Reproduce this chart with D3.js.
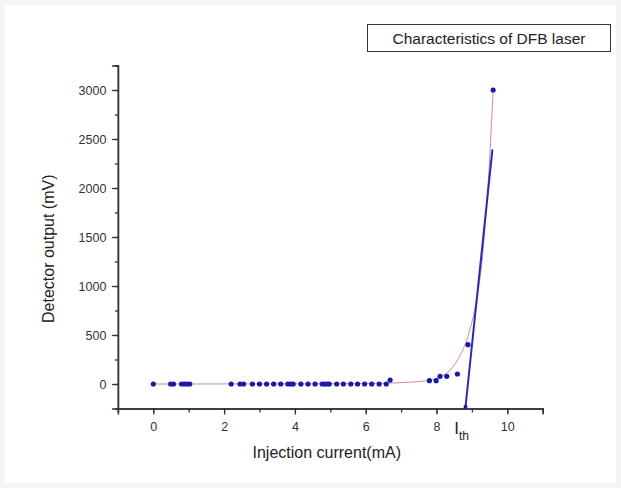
<!doctype html>
<html lang="en">
<head>
    <meta charset="utf-8">
    <title>Characteristics of DFB laser</title>
    <script src="https://d3js.org/d3.v7.min.js"></script>
    <style>
        html, body { margin: 0; padding: 0; background: #f4f4f4; }
        svg { display: block; font-family: "Liberation Sans", Arial, sans-serif; }
    </style>
</head>
<body>
    <script>
        // Measured points: injection current (mA) and detector output (mV)
        const currentMA = [0, 0.49, 0.57, 0.8, 0.88, 0.95, 1.03, 2.2, 2.45, 2.55, 2.8, 3.0, 3.2, 3.4, 3.6,
                           3.8, 3.88, 3.95, 4.17, 4.37, 4.57, 4.77, 4.84, 4.91, 4.97, 5.18, 5.37, 5.58, 5.77,
                           5.97, 6.17, 6.38, 6.58, 6.69, 7.8, 7.99, 8.1, 8.29, 8.59, 8.89, 9.6];
        const outputMV  = [0, 0, 0, 0, 0, 0, 0, 0, 0, 0, 0, 0, 0, 0, 0,
                           0, 0, 0, 0, 0, 0, 0, 0, 0, 0, 0, 0, 0, 0,
                           0, 0, 0, 0, 40, 34, 34, 78, 78, 102, 401, 3000];

        // Red fitted curve
        const fitX = [0, 5.0, 6.6, 7.2, 7.8, 8.3, 8.6, 8.9, 9.1, 9.3, 9.5, 9.6];
        const fitY = [0, 2, 8, 18, 38, 115, 250, 500, 800, 1300, 2300, 3000];

        // Blue threshold line
        const threshX = [8.82, 9.58];
        const threshY = [-232, 2395];

        const xTicks = [0, 2, 4, 6, 8, 10];
        const yTicks = [0, 500, 1000, 1500, 2000, 2500, 3000];

        const W = 621, H = 488;
        const svg = d3.select("body").append("svg").attr("width", W).attr("height", H);

        svg.append("rect")
            .attr("x", 5).attr("y", 5)
            .attr("width", W - 10).attr("height", H - 10)
            .attr("fill", "#ffffff");

        const x = d3.scaleLinear().domain([-1, 11]).range([117.9, 542.7]);
        const y = d3.scaleLinear().domain([-250, 3250]).range([408.5, 65.5]);

        const axisColor = "#333333";

        // x axis
        const gx = svg.append("g").attr("transform", `translate(0,${y(-250)})`);
        gx.call(d3.axisBottom(x).tickValues(d3.range(-1, 12, 1)).tickSize(4).tickFormat(""));
        gx.append("g").call(d3.axisBottom(x).tickValues(xTicks).tickSize(6).tickFormat(d3.format("d")));
        gx.selectAll("path.domain").attr("stroke", axisColor).attr("stroke-width", 1.5);
        gx.selectAll(".tick line").attr("stroke", axisColor).attr("stroke-width", 1.3);
        gx.selectAll(".tick text").attr("font-size", 12.5).attr("fill", "#333").attr("dy", "1.05em")
            .attr("font-family", "Liberation Sans, Arial, sans-serif");

        // y axis
        const gy = svg.append("g").attr("transform", `translate(${x(-1)},0)`);
        gy.call(d3.axisLeft(y).tickValues(d3.range(-250, 3251, 250)).tickSize(3).tickFormat(""));
        gy.append("g").call(d3.axisLeft(y).tickValues(yTicks).tickSize(6).tickFormat(d3.format("d")));
        gy.selectAll("path.domain").attr("stroke", axisColor).attr("stroke-width", 1.5);
        gy.selectAll(".tick line").attr("stroke", axisColor).attr("stroke-width", 1.3);
        gy.selectAll(".tick text").attr("font-size", 12.5).attr("fill", "#333").attr("dx", "-0.2em")
            .attr("font-family", "Liberation Sans, Arial, sans-serif");

        // axis titles
        svg.append("text")
            .attr("x", x(4.9)).attr("y", 458)
            .attr("text-anchor", "middle")
            .attr("font-size", 16).attr("fill", "#222")
            .text("Injection current(mA)");

        svg.append("text")
            .attr("transform", `translate(${54},${y(1380)}) rotate(-90)`)
            .attr("text-anchor", "middle")
            .attr("font-size", 16).attr("fill", "#222")
            .text("Detector output (mV)");

        // I_th label
        const ith = svg.append("text").attr("x", x(8.5)).attr("y", 434).attr("fill", "#222");
        ith.append("tspan").attr("font-size", 17).text("I");
        ith.append("tspan").attr("font-size", 12).attr("dy", 6).text("th");

        // fitted red curve
        const fitData = fitX.map((v, i) => ({ x: v, y: fitY[i] }));
        svg.append("path")
            .datum(fitData)
            .attr("fill", "none")
            .attr("stroke", "#d88a8a")
            .attr("stroke-width", 1)
            .attr("d", d3.line()
                .x(d => x(d.x))
                .y(d => y(d.y))
                .curve(d3.curveMonotoneX));

        // blue threshold line
        const thData = threshX.map((v, i) => ({ x: v, y: threshY[i] }));
        svg.append("path")
            .datum(thData)
            .attr("fill", "none")
            .attr("stroke", "#2a2ab8")
            .attr("stroke-width", 2)
            .attr("d", d3.line().x(d => x(d.x)).y(d => y(d.y)));
        svg.append("circle")
            .attr("cx", x(threshX[0])).attr("cy", y(threshY[0]))
            .attr("r", 2).attr("fill", "#1a1aa8");

        // data points
        const pts = currentMA.map((v, i) => ({ x: v, y: outputMV[i] }));
        svg.append("g").selectAll("circle")
            .data(pts)
            .join("circle")
            .attr("cx", d => x(d.x))
            .attr("cy", d => y(d.y))
            .attr("r", 2.6)
            .attr("fill", "#1a1aa8");

        // legend box
        svg.append("rect")
            .attr("x", 367.5).attr("y", 24.5)
            .attr("width", 243).attr("height", 27)
            .attr("fill", "#fff").attr("stroke", "#333").attr("stroke-width", 1);
        svg.append("text")
            .attr("x", 489).attr("y", 44)
            .attr("text-anchor", "middle")
            .attr("font-size", 15.5).attr("fill", "#222")
            .text("Characteristics of DFB laser");
    </script>
</body>
</html>
